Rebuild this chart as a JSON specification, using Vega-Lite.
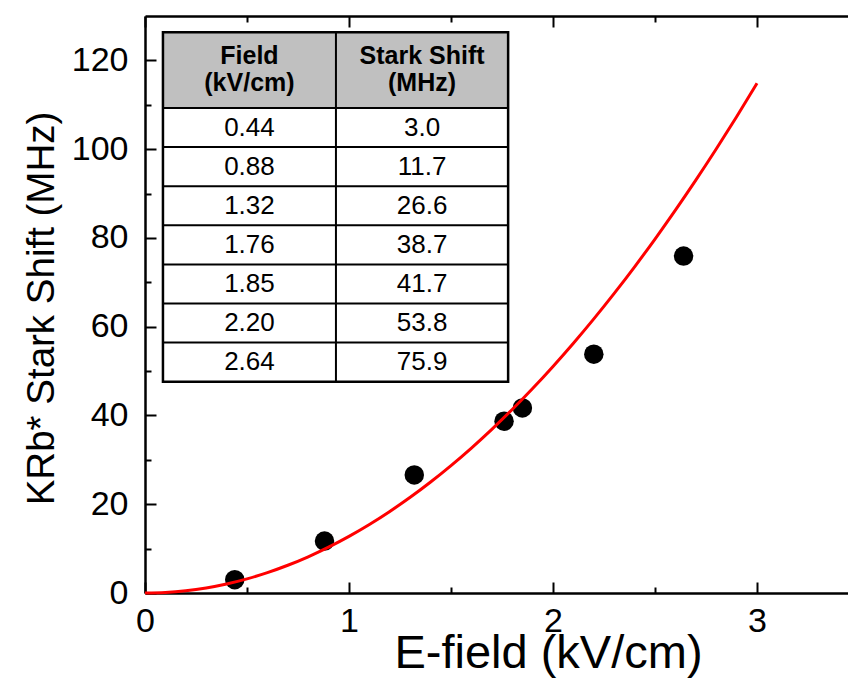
{
  "$schema": "https://vega.github.io/schema/vega-lite/v6.json",
  "width": 703,
  "height": 577,
  "autosize": {"type": "none"},
  "padding": {"left": 145, "top": 16, "right": 0, "bottom": 103},
  "config": {
    "view": {"stroke": null},
    "font": "Liberation Sans",
    "axis": {
      "domainColor": "#000", "domainWidth": 2.5, "tickColor": "#000", "tickWidth": 2,
      "labelColor": "#000", "titleColor": "#000", "labelFont": "Liberation Sans", "titleFont": "Liberation Sans",
      "titleFontWeight": "normal", "grid": false, "labelFlush": false, "labelOverlap": false
    }
  },
  "datasets": {
    "obs": [
      {"i": 1, "E": 0.44, "S": 3.0},
      {"i": 2, "E": 0.88, "S": 11.7},
      {"i": 3, "E": 1.32, "S": 26.6},
      {"i": 4, "E": 1.76, "S": 38.7},
      {"i": 5, "E": 1.85, "S": 41.7},
      {"i": 6, "E": 2.20, "S": 53.8},
      {"i": 7, "E": 2.64, "S": 75.9}
    ],
    "fit": [
      {"E": 0.0, "S": 0.0}, {"E": 0.1, "S": 0.128}, {"E": 0.2, "S": 0.51}, {"E": 0.3, "S": 1.148},
      {"E": 0.4, "S": 2.042}, {"E": 0.5, "S": 3.19}, {"E": 0.6, "S": 4.594}, {"E": 0.7, "S": 6.252},
      {"E": 0.8, "S": 8.166}, {"E": 0.9, "S": 10.336}, {"E": 1.0, "S": 12.76}, {"E": 1.1, "S": 15.44},
      {"E": 1.2, "S": 18.374}, {"E": 1.3, "S": 21.564}, {"E": 1.4, "S": 25.01}, {"E": 1.5, "S": 28.71},
      {"E": 1.6, "S": 32.666}, {"E": 1.7, "S": 36.876}, {"E": 1.8, "S": 41.342}, {"E": 1.9, "S": 46.064},
      {"E": 2.0, "S": 51.04}, {"E": 2.1, "S": 56.272}, {"E": 2.2, "S": 61.758}, {"E": 2.3, "S": 67.5},
      {"E": 2.4, "S": 73.498}, {"E": 2.5, "S": 79.75}, {"E": 2.6, "S": 86.258}, {"E": 2.7, "S": 93.02},
      {"E": 2.8, "S": 100.038}, {"E": 2.9, "S": 107.312}, {"E": 3.0, "S": 114.84}
    ]
  },
  "resolve": {"scale": {"y": "independent"}},
  "layer": [
    {
      "layer": [
        {
          "data": {"name": "obs"},
          "mark": {"type": "point", "filled": true, "size": 380, "color": "#000", "opacity": 1},
          "encoding": {
            "x": {
              "field": "E", "type": "quantitative",
              "scale": {"domain": [0, 3.446], "nice": false, "zero": false},
              "axis": {
                "orient": "top", "values": [0, 0.5, 1, 1.5, 2, 2.5, 3], "labels": false, "title": null,
                "tickSize": {"condition": {"test": "datum.value % 1 === 0", "value": -11}, "value": -6}
              }
            },
            "y": {
              "field": "S", "type": "quantitative",
              "scale": {"domain": [0, 130], "nice": false},
              "axis": {
                "orient": "left", "values": [0, 10, 20, 30, 40, 50, 60, 70, 80, 90, 100, 110, 120],
                "labelExpr": "datum.value % 20 === 0 ? '' + datum.value : ''",
                "tickSize": {"condition": {"test": "datum.value % 20 === 0", "value": -11}, "value": -6},
                "labelPadding": 28, "labelFontSize": 34,
                "title": "KRb* Stark Shift (MHz)", "titleFontSize": 38.5, "titleX": -92, "titleY": 292,
                "titleBaseline": "alphabetic", "titleAngle": 270, "titleAlign": "center"
              }
            }
          }
        },
        {
          "data": {"name": "fit"},
          "mark": {"type": "line", "color": "#ff0000", "strokeWidth": 3, "interpolate": "monotone"},
          "encoding": {
            "x": {
              "field": "E", "type": "quantitative",
              "scale": {"domain": [0, 3.446], "nice": false, "zero": false},
              "axis": {
                "orient": "bottom", "values": [0, 0.5, 1, 1.5, 2, 2.5, 3],
                "labelExpr": "datum.value % 1 === 0 ? '' + datum.value : ''",
                "tickSize": {"condition": {"test": "datum.value % 1 === 0", "value": -11}, "value": -6},
                "labelPadding": 22, "labelFontSize": 34, "labelBaseline": "top",
                "title": "E-field (kV/cm)", "titleFontSize": 47, "titleX": 403, "titleY": 74,
                "titleBaseline": "alphabetic", "titleAlign": "center"
              }
            },
            "y": {
              "field": "S", "type": "quantitative",
              "scale": {"domain": [0, 130], "nice": false}
            }
          }
        }
      ]
    },
    {
      "layer": [
        {
          "data": {"values": [{}]},
          "mark": {"type": "rect", "fill": "#c0c0c0"},
          "encoding": {
            "x": {"datum": 0.088, "type": "quantitative", "axis": null},
            "x2": {"datum": 1.78},
            "y": {"datum": -0.94, "type": "quantitative", "axis": null, "scale": {"domain": [-1.353, 13.404], "reverse": true, "nice": false, "zero": false}},
            "y2": {"datum": 1}
          }
        },
        {
          "data": {"name": "obs"},
          "mark": {"type": "rule", "stroke": "#000", "strokeWidth": 2},
          "encoding": {
            "x": {"datum": 0.088, "type": "quantitative", "axis": null},
            "x2": {"datum": 1.78},
            "y": {"field": "i", "type": "quantitative", "axis": null, "scale": {"domain": [-1.353, 13.404], "reverse": true, "nice": false, "zero": false}}
          }
        },
        {
          "data": {"values": [{}]},
          "mark": {"type": "rule", "stroke": "#000", "strokeWidth": 2},
          "encoding": {
            "x": {"datum": 0.936, "type": "quantitative", "axis": null},
            "y": {"datum": -0.94, "type": "quantitative", "axis": null, "scale": {"domain": [-1.353, 13.404], "reverse": true, "nice": false, "zero": false}},
            "y2": {"datum": 8}
          }
        },
        {
          "data": {"values": [{}]},
          "mark": {"type": "rect", "fillOpacity": 0, "stroke": "#000", "strokeWidth": 2.5},
          "encoding": {
            "x": {"datum": 0.088, "type": "quantitative", "axis": null},
            "x2": {"datum": 1.78},
            "y": {"datum": -0.94, "type": "quantitative", "axis": null, "scale": {"domain": [-1.353, 13.404], "reverse": true, "nice": false, "zero": false}},
            "y2": {"datum": 8}
          }
        },
        {
          "data": {"values": [{}]},
          "mark": {"type": "text", "text": ["Field", "(kV/cm)"], "fontSize": 25, "fontWeight": "bold", "lineHeight": 26.5, "baseline": "alphabetic", "align": "center", "color": "#000"},
          "encoding": {
            "x": {"datum": 0.512, "type": "quantitative", "axis": null},
            "y": {"datum": -0.118, "type": "quantitative", "axis": null, "scale": {"domain": [-1.353, 13.404], "reverse": true, "nice": false, "zero": false}}
          }
        },
        {
          "data": {"values": [{}]},
          "mark": {"type": "text", "text": ["Stark Shift", "(MHz)"], "fontSize": 25, "fontWeight": "bold", "lineHeight": 26.5, "baseline": "alphabetic", "align": "center", "color": "#000"},
          "encoding": {
            "x": {"datum": 1.358, "type": "quantitative", "axis": null},
            "y": {"datum": -0.118, "type": "quantitative", "axis": null, "scale": {"domain": [-1.353, 13.404], "reverse": true, "nice": false, "zero": false}}
          }
        },
        {
          "data": {"name": "obs"},
          "mark": {"type": "text", "fontSize": 26, "baseline": "middle", "align": "center", "dy": 19.5, "color": "#000"},
          "encoding": {
            "x": {"datum": 0.512, "type": "quantitative", "axis": null},
            "y": {"field": "i", "type": "quantitative", "axis": null, "scale": {"domain": [-1.353, 13.404], "reverse": true, "nice": false, "zero": false}},
            "text": {"field": "E", "type": "quantitative", "format": ".2f"}
          }
        },
        {
          "data": {"name": "obs"},
          "mark": {"type": "text", "fontSize": 26, "baseline": "middle", "align": "center", "dy": 19.5, "color": "#000"},
          "encoding": {
            "x": {"datum": 1.358, "type": "quantitative", "axis": null},
            "y": {"field": "i", "type": "quantitative", "axis": null, "scale": {"domain": [-1.353, 13.404], "reverse": true, "nice": false, "zero": false}},
            "text": {"field": "S", "type": "quantitative", "format": ".1f"}
          }
        }
      ]
    }
  ]
}
